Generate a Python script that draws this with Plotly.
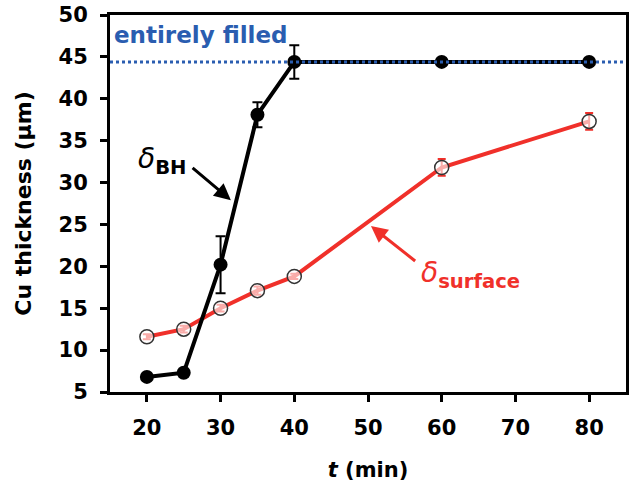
import plotly.graph_objects as go

t = [20, 25, 30, 35, 40, 60, 80]
delta_bh = [6.8, 7.3, 20.2, 38.1, 44.4, 44.4, 44.4]
delta_bh_err = [0.0, 0.0, 3.4, 1.5, 2.0, 0.0, 0.0]
delta_surface = [11.6, 12.5, 15.0, 17.1, 18.8, 31.8, 37.3]
delta_surface_err = [0.3, 0.4, 0.4, 0.5, 0.3, 1.0, 1.0]
filled_level = 44.4

RED = "#f0302a"
BLUE = "#2a5db0"
FONT = "DejaVu Sans, Liberation Sans, sans-serif"

fig = go.Figure()

fig.add_trace(go.Scatter(
    x=t, y=delta_surface, mode="lines+markers",
    line=dict(color=RED, width=4),
    marker=dict(symbol="circle", size=14, color="rgba(255,255,255,0.6)",
                line=dict(color="#333333", width=1.5)),
    error_y=dict(type="data", array=delta_surface_err, color=RED, thickness=2, width=4),
    showlegend=False))

fig.add_trace(go.Scatter(
    x=t, y=delta_bh, mode="lines+markers",
    line=dict(color="black", width=4),
    marker=dict(symbol="circle", size=14, color="black"),
    error_y=dict(type="data", array=delta_bh_err, color="black", thickness=2, width=5),
    showlegend=False))

fig.add_hline(y=filled_level, line=dict(color=BLUE, width=3, dash="dot"), layer="above")

fig.add_annotation(x=15.3, y=47.6, xref="x", yref="y", text="<b>entirely filled</b>",
                   showarrow=False, xanchor="left", yanchor="middle",
                   font=dict(family=FONT, size=23, color=BLUE))

fig.add_annotation(x=22.1, y=32.6, xref="x", yref="y",
                   text="<i>δ</i><sub><b>BH</b></sub>",
                   showarrow=False, font=dict(family=FONT, size=28, color="black"))
fig.add_annotation(x=31.4, y=27.9, ax=26.0, ay=31.9, xref="x", yref="y", axref="x", ayref="y",
                   text="", showarrow=True, arrowhead=2, arrowsize=1.1, arrowwidth=3,
                   arrowcolor="black")

fig.add_annotation(x=63.9, y=19.0, xref="x", yref="y",
                   text="<i>δ</i><sub><b>surface</b></sub>",
                   showarrow=False, font=dict(family=FONT, size=28, color=RED))
fig.add_annotation(x=50.4, y=24.8, ax=56.6, ay=20.5, xref="x", yref="y", axref="x", ayref="y",
                   text="", showarrow=True, arrowhead=2, arrowsize=1.1, arrowwidth=3,
                   arrowcolor=RED)

fig.update_xaxes(range=[15, 85], tickvals=[20, 30, 40, 50, 60, 70, 80],
                 ticks="outside", ticklen=7, tickwidth=3, tickcolor="black",
                 showline=True, linewidth=3, linecolor="black", mirror=True,
                 showgrid=False, zeroline=False, automargin=False,
                 ticklabelstandoff=8, ticklabeloverflow="allow",
                 tickfont=dict(family=FONT, size=21, color="black", weight="bold"),
                 title=dict(text="<b><i>t</i> (min)</b>", standoff=24,
                            font=dict(family=FONT, size=21, color="black")))
fig.update_yaxes(range=[5, 50], tickvals=[5, 10, 15, 20, 25, 30, 35, 40, 45, 50],
                 ticks="outside", ticklen=7, tickwidth=3, tickcolor="black",
                 showline=True, linewidth=3, linecolor="black", mirror=True,
                 showgrid=False, zeroline=False, automargin=False,
                 ticklabelstandoff=8, ticklabeloverflow="allow",
                 tickfont=dict(family=FONT, size=21, color="black", weight="bold"),
                 title=dict(text="<b>Cu thickness (μm)</b>", standoff=21,
                            font=dict(family=FONT, size=22, color="black")))

fig.update_layout(width=629, height=487, margin=dict(l=110, r=3, t=15, b=95),
                  plot_bgcolor="white", paper_bgcolor="white",
                  font=dict(family=FONT))

fig.write_html("out.html", config={"displayModeBar": False},
               post_script="document.body.style.margin='0';document.body.style.overflow='hidden';")
